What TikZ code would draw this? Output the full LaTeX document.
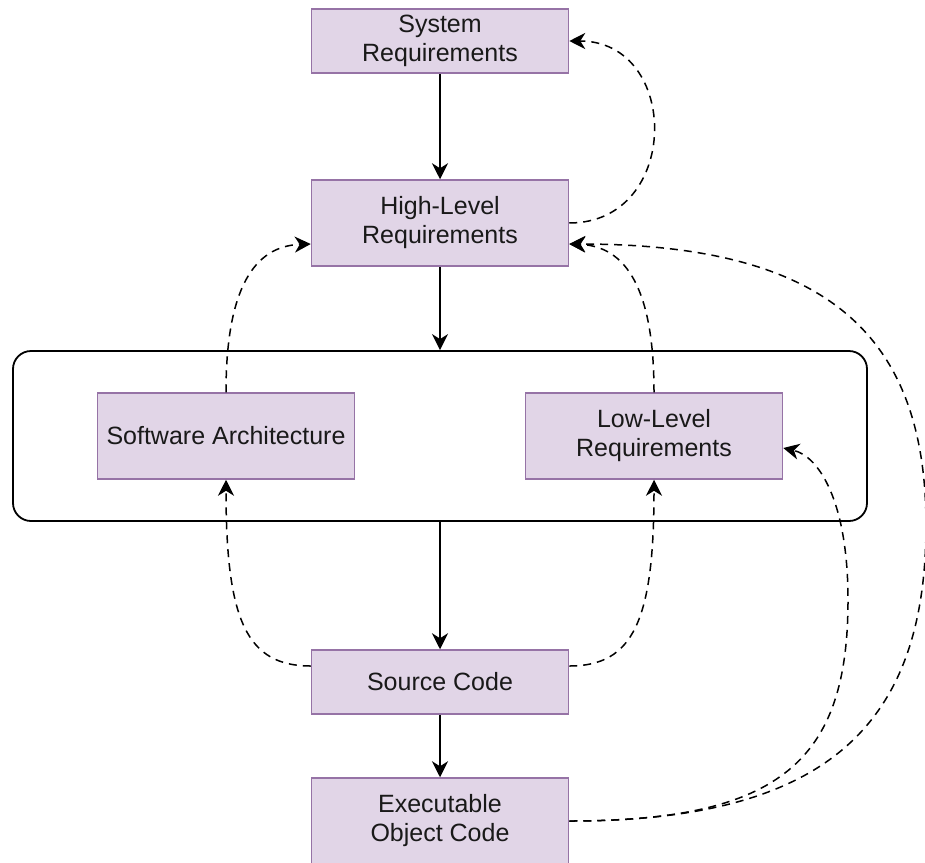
\documentclass[tikz,border=0pt]{standalone}
\usepackage{fontspec}
\setmainfont{Liberation Sans}
\usetikzlibrary{arrows.meta,calc}
\definecolor{boxfill}{HTML}{E1D5E7}
\definecolor{boxline}{HTML}{9673A6}
\begin{document}
\begin{tikzpicture}[x=0.5pt,y=-0.5pt]
			\tikzstyle{every node}+=[inner sep=0pt, font=\fontsize{12.5}{14.5}\selectfont, text=black!90]
			\tikzstyle{artefact}=[draw=boxline, fill=boxfill, line width=0.75pt, minimum width=128.5pt, align=center]
			\tikzstyle{flow}=[line width=0.9pt, -{Stealth[length=8pt,width=8pt,inset=2.5pt]}]
			\tikzstyle{trace}=[flow, line width=0.75pt, dash pattern=on 4pt off 3pt]
			\useasboundingbox (0,0) rectangle (925,862);
			% software design group
			\node [draw, rounded corners=9pt, line width=0.9pt, minimum width=427pt, minimum height=85pt] (swdesign) at (440,436) {};
			% artefacts
			\node [artefact, minimum height=32pt] (sysreq) at (440,41) {System\\Requirements};
			\node [artefact, minimum height=43pt] (hlr) at (440,223) {High-Level\\Requirements};
			\node [artefact, minimum height=43pt] (swarch) at (226,436) {Software Architecture};
			\node [artefact, minimum height=43pt] (llr) at (654,436) {Low-Level\\Requirements};
			\node [artefact, minimum height=32pt] (src) at (440,682) {Source Code};
			\node [artefact, minimum height=43pt] (eoc) at (440,821) {Executable\\Object Code};
			\coordinate (bendllr) at (848,600);
			\coordinate (bendhlr) at (926,525);
			% development flow
			\draw [flow] (sysreq) -- (hlr);
			\draw [flow] (hlr) -- (swdesign);
			\draw [flow] (swdesign) -- (src);
			\draw [flow] (src) -- (eoc);
			% traceability
			\draw [trace] (hlr.east) .. controls +(112,0) and +(112,0) .. (sysreq.east);
			\draw [trace] (swarch.north) .. controls +(0,-103) and +(-57,2) .. ($(hlr.west)+(0,21)$);
			\draw [trace] (llr.north) .. controls +(0,-103) and +(57,2) .. ($(hlr.east)+(0,21)$);
			\draw [trace] ($(src.west)+(0,-16)$) .. controls +(-64,0) and +(0,141) .. (swarch.south);
			\draw [trace] ($(src.east)+(0,-16)$) .. controls +(64,0) and +(0,141) .. (llr.south);
			\draw [trace] (eoc.east) .. controls +(212,0) and +(0,160) .. (bendllr) .. controls +(0,-100) and +(35,8) .. ($(llr.east)+(0,12)$);
			\draw [trace] (eoc.east) .. controls +(252,0) and +(0,205) .. (bendhlr) .. controls +(0,-195) and +(252,0) .. ($(hlr.east)+(0,21)$);
\end{tikzpicture}
\end{document}
